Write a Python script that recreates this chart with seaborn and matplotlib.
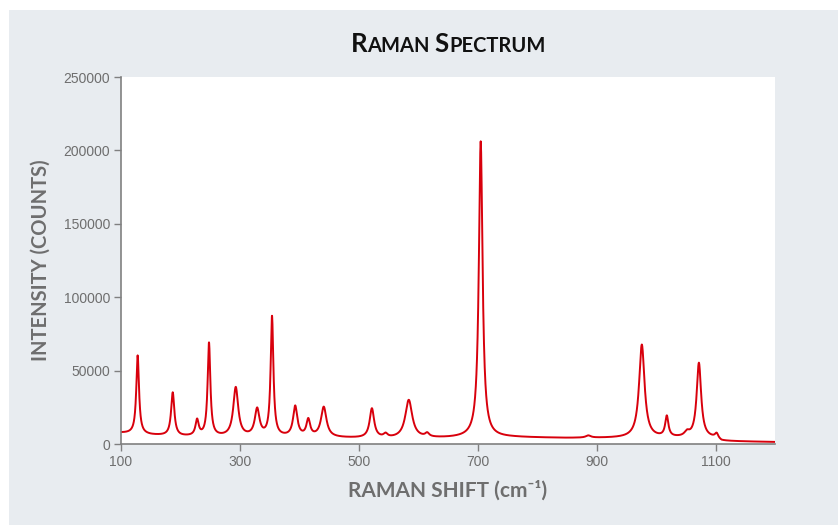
import numpy as np
import pandas as pd
import matplotlib
matplotlib.use("Agg")
import matplotlib.pyplot as plt
import seaborn as sns
from matplotlib.offsetbox import TextArea, HPacker, AnchoredOffsetbox
from matplotlib.patches import Rectangle

# ---- data ----
peak_centers = [128, 187, 228, 248, 293, 329, 354, 393, 415, 441, 522, 545, 584, 615,
                705, 886, 976, 1018, 1052, 1072, 1102]
peak_heights = [53500, 29500, 10800, 63500, 33500, 18500, 81500, 20500, 11300, 20500,
                20000, 2500, 26000, 2500, 201500, 1500, 63500, 14000, 3000, 51000, 3000]
peak_fwhm = [5.5, 6.5, 6.5, 5.5, 10, 9.5, 5.5, 8.5, 7.5, 11, 9, 8, 14, 8, 7.5, 10, 11, 6.5, 10, 9, 6]
baseline_x = [100, 150, 200, 300, 400, 480, 550, 650, 700, 760, 850, 950, 1050, 1100, 1110, 1200]
baseline_y = [7500, 6000, 5000, 4500, 4500, 4000, 3500, 4000, 4500, 4500, 4000, 4000, 4000, 3800, 1800, 1300]
x_ticks = [100, 300, 500, 700, 900, 1100]
y_ticks = [0, 50000, 100000, 150000, 200000, 250000]

shift = np.arange(100, 1200.01, 0.25)
intensity = np.interp(shift, baseline_x, baseline_y)
for c, h, f in zip(peak_centers, peak_heights, peak_fwhm):
    w = f / 2.0
    intensity = intensity + h * w**2 / ((shift - c) ** 2 + w**2)
df = pd.DataFrame({"shift": shift, "intensity": intensity})

# ---- styling ----
sns.set_theme(style="white")
plt.rcParams['font.family'] = ['Liberation Sans', 'DejaVu Sans']

panel = "#e8ecf0"
gray = "#6e6e6e"
fig = plt.figure(figsize=(8.38, 5.25), dpi=100)
fig.patch.set_facecolor("white")
fig.patches.append(Rectangle((9 / 838, 0), 1, 1 - 10 / 525, transform=fig.transFigure,
                             facecolor=panel, edgecolor="none", zorder=-10))

ax = fig.add_axes([121 / 838, 81 / 525, (775 - 121) / 838, (444 - 77) / 525])
ax.set_facecolor("white")
sns.lineplot(data=df, x="shift", y="intensity", ax=ax, color="#d8000c", linewidth=1.4)

ax.set_xlim(100, 1200)
ax.set_ylim(0, 250000)
ax.set_xticks(x_ticks)
ax.set_yticks(y_ticks)
ax.set_xticklabels([str(v) for v in x_ticks])
ax.set_yticklabels([str(v) for v in y_ticks])
for s in ["top", "right"]:
    ax.spines[s].set_visible(False)
for s in ["left", "bottom"]:
    ax.spines[s].set_color("#808080")
    ax.spines[s].set_linewidth(1.2)
ax.tick_params(axis="both", which="major", direction="out", length=5, width=1.0,
               color="#808080", labelcolor=gray, labelsize=10, pad=3,
               left=True, bottom=True)

lab_font = dict(family=['Lato', 'DejaVu Sans'], weight='bold', color=gray)
ax.set_xlabel("RAMAN SHIFT (cm⁻¹)", fontsize=15, labelpad=8, **lab_font)
ax.set_ylabel("INTENSITY (COUNTS)", fontsize=14.5, labelpad=9, **lab_font)

# small-caps title
tprops_big = dict(size=18.5, weight='bold', family='Lato', color="#111111")
tprops_small = dict(size=14.5, weight='bold', family='Lato', color="#111111")
parts = [TextArea("R", textprops=tprops_big), TextArea("AMAN ", textprops=tprops_small),
         TextArea("S", textprops=tprops_big), TextArea("PECTRUM", textprops=tprops_small)]
box = HPacker(children=parts, align="baseline", pad=0, sep=0)
anch = AnchoredOffsetbox(loc="center", child=box, pad=0, frameon=False,
                         bbox_to_anchor=(448 / 838, 1 - 44 / 525),
                         bbox_transform=fig.transFigure, borderpad=0)
fig.add_artist(anch)

fig.savefig("out.png", dpi=100, facecolor=fig.get_facecolor())
